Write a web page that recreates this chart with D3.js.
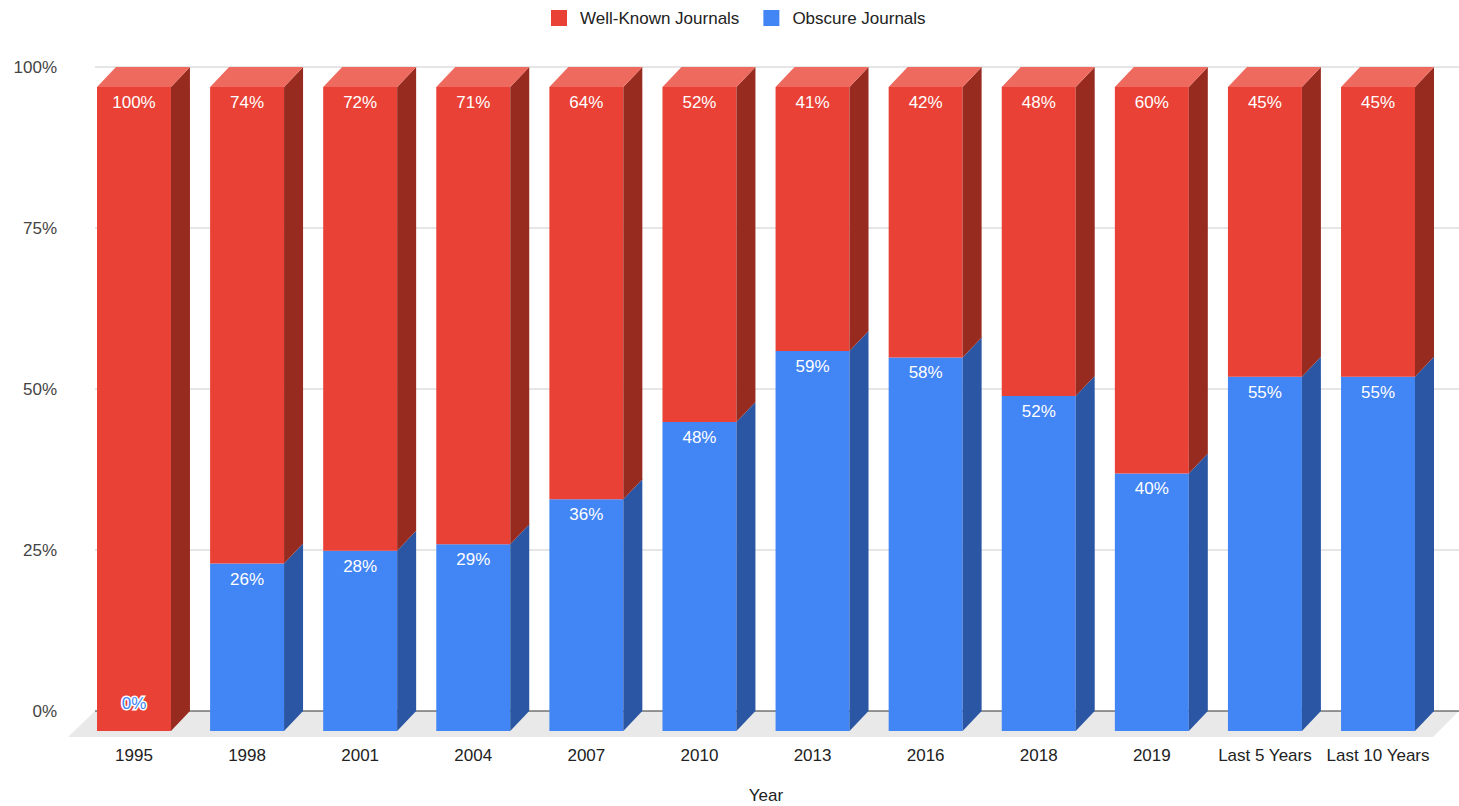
<!DOCTYPE html>
<html>
<head>
<meta charset="utf-8">
<script src="https://cdn.jsdelivr.net/npm/d3@7"></script>
<style>
  html, body { margin: 0; padding: 0; background: #fff; }
  svg { display: block; font-family: "Liberation Sans", Arial, sans-serif; }
</style>
</head>
<body>
<svg id="chart"></svg>
<script>
// data
var years = ["1995", "1998", "2001", "2004", "2007", "2010", "2013", "2016", "2018", "2019", "Last 5 Years", "Last 10 Years"];
var wellKnown = [100, 74, 72, 71, 64, 52, 41, 42, 48, 60, 45, 45];
var obscure = [0, 26, 28, 29, 36, 48, 59, 58, 52, 40, 55, 55];
var seriesNames = ["Well-Known Journals", "Obscure Journals"];
var yTicks = [0, 0.25, 0.5, 0.75, 1];

var width = 1459, height = 806;
var dx = 19, dy = 20; // 3d depth of the bars

var red = { front: "#e94136", side: "#982b20", top: "#ee6a5f" };
var blue = { front: "#4285f4", side: "#2b56a3" };

var svg = d3.select("#chart")
    .attr("width", width)
    .attr("height", height)
    .attr("viewBox", [0, 0, width, height]);

var x = d3.scaleBand()
    .domain(years)
    .range([97, 1415])
    .paddingInner(0.346)
    .paddingOuter(0);

// back plane (gridlines) and front plane (bar faces)
var yBack = d3.scaleLinear().domain([0, 1]).range([711, 67]);
var yFront = d3.scaleLinear().domain([0, 1]).range([711 + dy, 67 + dy]);

var rows = years.map((c, i) => ({ cat: c, wk: wellKnown[i] / 100, ob: obscure[i] / 100 }));

// floor
svg.append("path")
    .attr("fill", "#e9e9e9")
    .attr("d", d3.line()([[95, yBack(0)], [width, yBack(0)], [width - 26, yBack(0) + 26], [68, yBack(0) + 26]]) + "Z");

// gridlines
svg.append("g")
    .selectAll("line")
    .data(yTicks.filter(t => t > 0))
    .join("line")
    .attr("x1", 95).attr("x2", width)
    .attr("y1", d => yBack(d)).attr("y2", d => yBack(d))
    .attr("stroke", "#cccccc");

svg.append("line")
    .attr("x1", 95).attr("x2", width)
    .attr("y1", yBack(0)).attr("y2", yBack(0))
    .attr("stroke", "#333333");

// y tick labels
svg.append("g")
    .attr("text-anchor", "end")
    .attr("font-size", 17)
    .attr("fill", "#444")
    .selectAll("text")
    .data(yTicks)
    .join("text")
    .attr("x", 57)
    .attr("y", d => yBack(d))
    .attr("dy", "0.35em")
    .text(d3.format(".0%"));

function face(pts) { return d3.line()(pts) + "Z"; }

var bars = svg.append("g")
    .selectAll("g")
    .data(rows)
    .join("g");

bars.each(function(d) {
    var g = d3.select(this);
    var x0 = x(d.cat), x1 = x0 + x.bandwidth();
    var y0 = yFront(0), yb = yFront(d.ob), yt = yFront(d.ob + d.wk);
    // obscure (bottom)
    if (d.ob > 0) {
        g.append("path").attr("fill", blue.front).attr("d", face([[x0, y0], [x1, y0], [x1, yb], [x0, yb]]));
        g.append("path").attr("fill", blue.side).attr("d", face([[x1, y0], [x1 + dx, y0 - dy], [x1 + dx, yb - dy], [x1, yb]]));
    }
    // well-known (top)
    g.append("path").attr("fill", red.front).attr("d", face([[x0, yb], [x1, yb], [x1, yt], [x0, yt]]));
    g.append("path").attr("fill", red.side).attr("d", face([[x1, yb], [x1 + dx, yb - dy], [x1 + dx, yt - dy], [x1, yt]]));
    g.append("path").attr("fill", red.top).attr("d", face([[x0, yt], [x0 + dx, yt - dy], [x1 + dx, yt - dy], [x1, yt]]));
});

// value labels
var fmt = v => Math.round(v * 100) + "%";
var labels = svg.append("g")
    .attr("text-anchor", "middle")
    .attr("font-size", 17);

labels.selectAll("text.wk")
    .data(rows)
    .join("text")
    .attr("class", "wk")
    .attr("x", d => x(d.cat) + x.bandwidth() / 2)
    .attr("y", d => yFront(d.ob + d.wk) + 21)
    .attr("fill", "#fff")
    .text(d => fmt(d.wk));

labels.selectAll("text.ob")
    .data(rows)
    .join("text")
    .attr("class", "ob")
    .attr("x", d => x(d.cat) + x.bandwidth() / 2)
    .attr("y", d => d.ob > 0 ? yFront(d.ob) + 21 : yFront(0) - 22)
    .attr("fill", d => d.ob > 0 ? "#fff" : blue.front)
    .attr("stroke", d => d.ob > 0 ? "none" : "#fff")
    .attr("stroke-width", 3)
    .attr("paint-order", "stroke")
    .text(d => fmt(d.ob));

// x axis labels
svg.append("g")
    .attr("text-anchor", "middle")
    .attr("font-size", 17)
    .attr("fill", "#222")
    .selectAll("text")
    .data(years)
    .join("text")
    .attr("x", d => x(d) + x.bandwidth() / 2)
    .attr("y", 761)
    .text(d => d);

svg.append("text")
    .attr("x", 766)
    .attr("y", 801)
    .attr("text-anchor", "middle")
    .attr("font-size", 17)
    .attr("fill", "#222")
    .text("Year");

// legend
var legend = svg.append("g").attr("font-size", 17).attr("fill", "#222");
var colors = [red.front, blue.front];
var lx = 0;
var items = legend.selectAll("g")
    .data(seriesNames)
    .join("g");
items.append("rect")
    .attr("width", 16).attr("height", 16)
    .attr("y", 10)
    .attr("fill", (d, i) => colors[i]);
items.append("text")
    .attr("x", 29)
    .attr("y", 24)
    .text(d => d);
items.each(function() {
    d3.select(this).attr("transform", `translate(${lx},0)`);
    lx += this.getBBox().width + 24;
});
legend.attr("transform", `translate(${Math.round(738 - (lx - 24) / 2)},0)`);
</script>
</body>
</html>
